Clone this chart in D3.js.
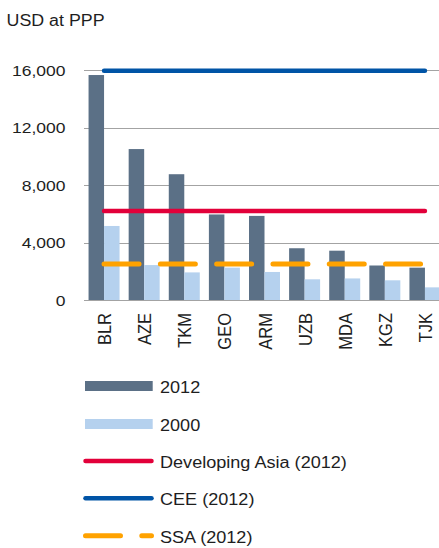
<!DOCTYPE html>
<html>
<head>
<meta charset="utf-8">
<script src="https://cdn.jsdelivr.net/npm/d3@7"></script>
<style>
  body { margin: 0; background: #fff; }
  text { font-family: "Liberation Sans", Arial, sans-serif; fill: #1e1e1e; }
</style>
</head>
<body>
<div id="chart"></div>
<script>
// data
var categories = ["BLR", "AZE", "TKM", "GEO", "ARM", "UZB", "MDA", "KGZ", "TJK"];
var values2012 = [15650, 10500, 8750, 5950, 5850, 3600, 3430, 2400, 2250];
var values2000 = [5150, 2430, 1920, 2250, 1950, 1440, 1500, 1370, 880];
var developingAsia2012 = 6200;
var cee2012 = 15950;
var ssa2012 = 2500;
var yTicks = [0, 4000, 8000, 12000, 16000];

var W = 439, H = 548;
var stretch = 1.13; // text in the picture is a bit wider than plain Arial

var svg = d3.select("#chart").append("svg")
    .attr("width", W).attr("height", H);

var x = d3.scaleBand().domain(categories).range([84, 445]).padding(0);
var y = d3.scaleLinear().domain([0, 16000]).range([300, 70]);
var barW = 15.5;

function addText(g, tx, ty, str, size, anchor) {
    return g.append("text")
        .attr("transform", "translate(" + tx + "," + ty + ") scale(" + stretch + ",1)")
        .attr("text-anchor", anchor || "start")
        .style("font-size", size + "px")
        .text(str);
}

// title
addText(svg, 6.5, 26, "USD at PPP", 15.8);

// gridlines
svg.append("g").selectAll("line")
    .data(yTicks)
    .enter().append("line")
    .attr("x1", 84).attr("x2", W)
    .attr("y1", function(d) { return Math.round(y(d)) + 0.5; })
    .attr("y2", function(d) { return Math.round(y(d)) + 0.5; })
    .attr("stroke", "#a3a3a3")
    .attr("stroke-width", 1);

// y tick labels
yTicks.forEach(function(t) {
    addText(svg, 65.5, y(t) + 5.6, d3.format(",")(t), 15.5, "end");
});

// bars
var barG = svg.append("g");
barG.selectAll("rect.b2012")
    .data(values2012)
    .enter().append("rect")
    .attr("class", "b2012")
    .attr("x", function(d, i) { return x(categories[i]) + x.bandwidth() / 2 - barW; })
    .attr("y", function(d) { return y(d); })
    .attr("width", barW)
    .attr("height", function(d) { return y(0) - y(d); })
    .attr("fill", "#5b7086");

barG.selectAll("rect.b2000")
    .data(values2000)
    .enter().append("rect")
    .attr("class", "b2000")
    .attr("x", function(d, i) { return x(categories[i]) + x.bandwidth() / 2; })
    .attr("y", function(d) { return y(d); })
    .attr("width", barW)
    .attr("height", function(d) { return y(0) - y(d); })
    .attr("fill", "#b5d1ee");

// benchmark lines across the categories
var xFirst = x(categories[0]) + x.bandwidth() / 2;
var xLast = x(categories[categories.length - 1]) + x.bandwidth() / 2;
var lines = [
    { name: "Developing Asia (2012)", value: developingAsia2012, color: "#e2003a", width: 4.5, dash: null },
    { name: "CEE (2012)", value: cee2012, color: "#0054a6", width: 4.5, dash: null },
    { name: "SSA (2012)", value: ssa2012, color: "#ffa200", width: 5, dash: "35,21.3" }
];

svg.append("g").selectAll("line")
    .data(lines)
    .enter().append("line")
    .attr("x1", xFirst).attr("x2", xLast)
    .attr("y1", function(d) { return y(d.value); })
    .attr("y2", function(d) { return y(d.value); })
    .attr("stroke", function(d) { return d.color; })
    .attr("stroke-width", function(d) { return d.width; })
    .attr("stroke-linecap", "round")
    .attr("stroke-dasharray", function(d) { return d.dash; });

// x labels, rotated
categories.forEach(function(c) {
    var cx = x(c) + x.bandwidth() / 2 + 7;
    svg.append("text")
        .attr("transform", "translate(" + cx + ",313) scale(" + stretch + ",1) rotate(-90)")
        .attr("text-anchor", "end")
        .style("font-size", "16.5px")
        .text(c);
});

// legend
var legend = svg.append("g");
var rowY = [386, 424, 461, 498.3, 535.7];

legend.append("rect").attr("x", 85).attr("y", rowY[0] - 5).attr("width", 67.7).attr("height", 10).attr("fill", "#5b7086");
addText(legend, 160, rowY[0] + 7, "2012", 16);
legend.append("rect").attr("x", 85).attr("y", rowY[1] - 5).attr("width", 67.7).attr("height", 10).attr("fill", "#b5d1ee");
addText(legend, 160, rowY[1] + 7, "2000", 16);

lines.forEach(function(d, i) {
    var ly = rowY[i + 2];
    legend.append("line")
        .attr("x1", 85.5).attr("x2", 151.5)
        .attr("y1", ly).attr("y2", ly)
        .attr("stroke", d.color)
        .attr("stroke-width", d.width)
        .attr("stroke-linecap", "round")
        .attr("stroke-dasharray", d.dash);
    addText(legend, 160, ly + 7, d.name, 16);
});
</script>
</body>
</html>
